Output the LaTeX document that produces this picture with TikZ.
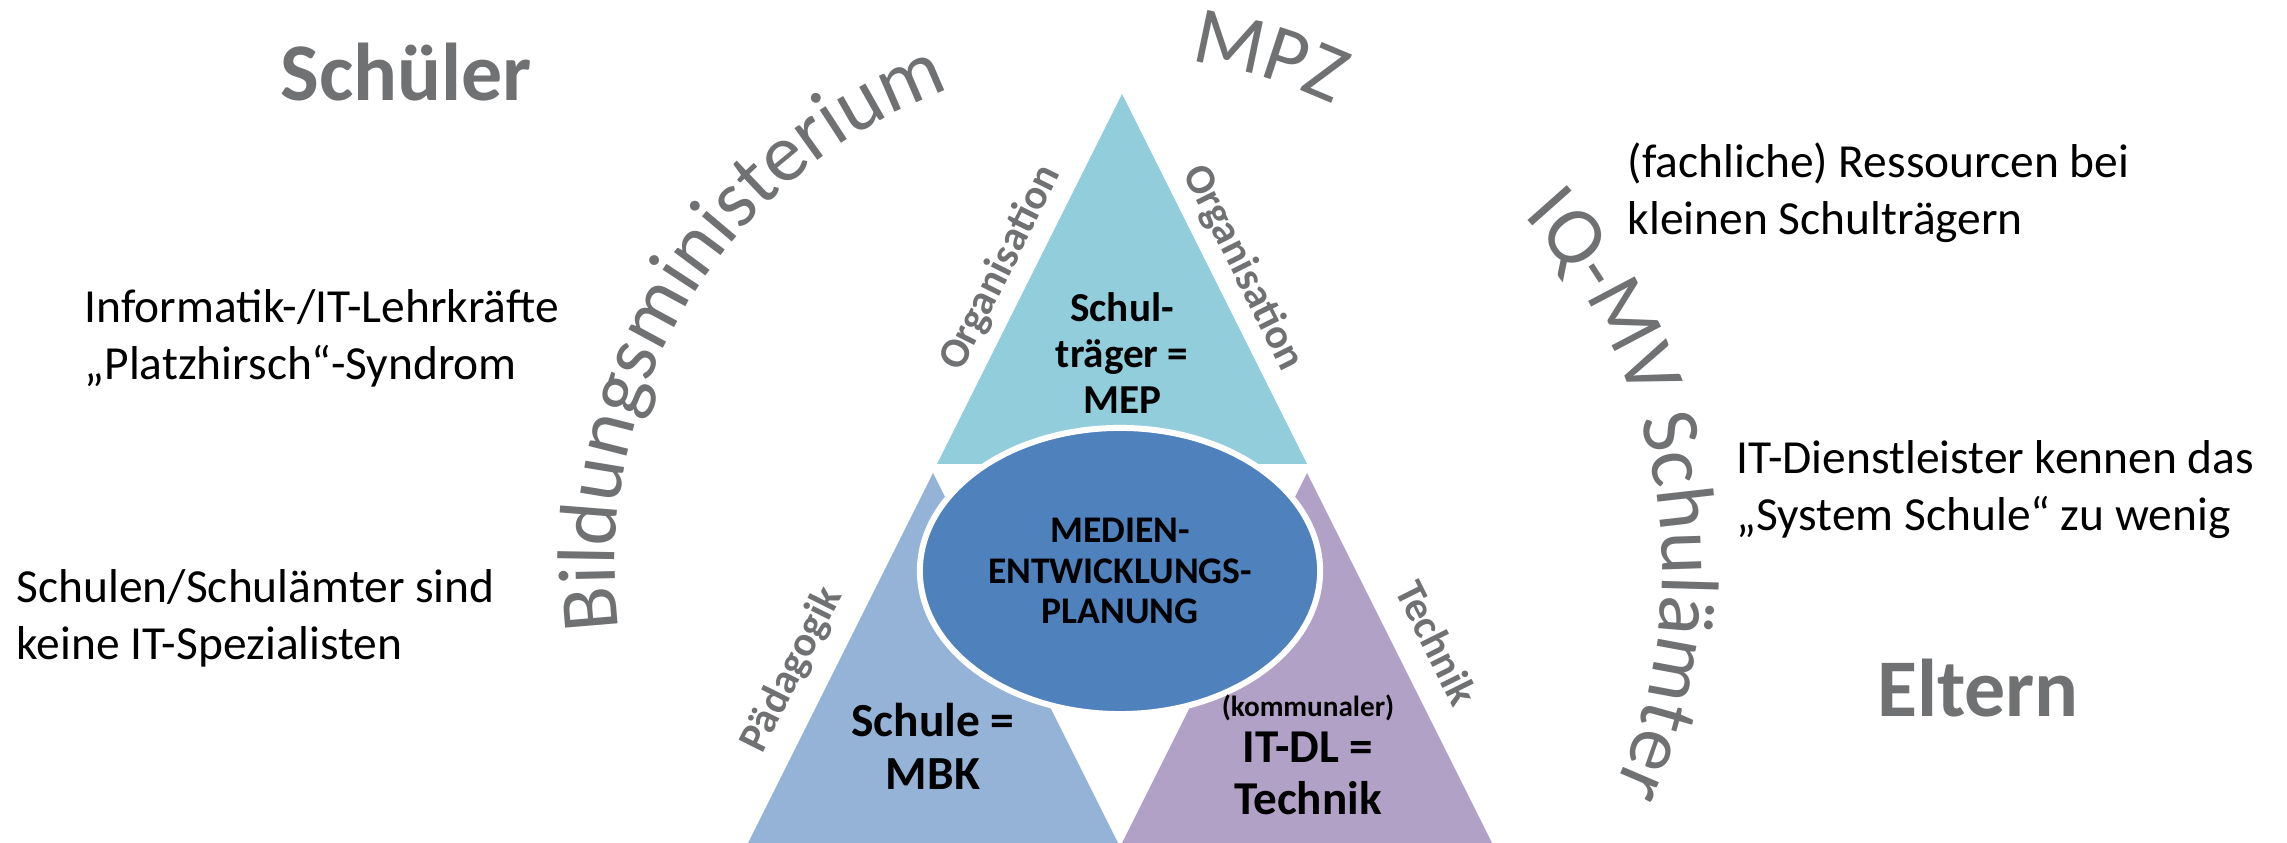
\documentclass[tikz,border=0pt]{standalone}
\usepackage{fontspec}
\setmainfont{Carlito}
\usetikzlibrary{shapes.geometric}
\usetikzlibrary{decorations.text}

\definecolor{orgblue}{RGB}{146,205,220}
\definecolor{paedblue}{RGB}{149,179,215}
\definecolor{techviolet}{RGB}{178,161,199}
\definecolor{mepblue}{RGB}{79,129,189}
\definecolor{labelgray}{RGB}{112,113,115}
\newcommand\arcfont{\fontsize{23.3}{28}\selectfont}

\begin{document}
\begin{tikzpicture}[x=0.01cm,y=0.01cm,
  side/.style={font=\bfseries\fontsize{12}{14}\selectfont, text=labelgray, inner sep=0},
  role/.style={font=\bfseries\fontsize{13.5}{15.1}\selectfont, align=center, inner sep=0, anchor=base},
  issue/.style={font=\fontsize{13.5}{16.4}\selectfont, align=left, inner sep=0, anchor=base west},
  group/.style={font=\bfseries\fontsize{23.3}{28}\selectfont, text=labelgray, inner sep=0, anchor=base},
  planning/.style={ellipse, fill=mepblue, draw=white, line width=0.06cm, minimum width=4cm,
    minimum height=2.86cm, inner sep=0, align=center, font=\bfseries\fontsize{10.7}{11.5}\selectfont},
  arctext/.style={decorate, decoration={text along path, text color=labelgray, text={|\arcfont|#1}}}]
  \useasboundingbox (0,0) rectangle (2287,843);

  % the three triangles
  \foreach \ax/\ay/\tone in {1122/749/orgblue, 933/370/paedblue, 1307/370/techviolet}{
    \fill[\tone] (\ax,\ay) -- ++(-185,-370) -- ++(370,0) -- cycle;
  }
  \node[planning] (mep) at (1120,272) {MEDIEN-\\ENTWICKLUNGS-\\PLANUNG};

  % base of a node with several lines = baseline of its last line
  \node[role, font=\bfseries\fontsize{11.7}{13.1}\selectfont] (carrier) at (1122,429) {Schul-\\träger =\\MEP};
  \node[role] (school) at (933,53) {Schule =\\MBK};
  \node[role, font=\bfseries\fontsize{13.4}{14.8}\selectfont] (provider) at (1308,28)
    {{\fontsize{8.3}{10}\selectfont(kommunaler)}\\[-1.7pt]IT-DL =\\Technik};

  \node[side, rotate=63.43] (orgleft) at (1001,575) {Organisation};
  \node[side, rotate=-63.43] (orgright) at (1243,575) {Organisation};
  \node[side, rotate=63.43] (paed) at (792,173) {Pädagogik};
  \node[side, rotate=-63.43] (tech) at (1437,200) {Technik};

  % texts on the big arc
  \coordinate (hub) at (1120,278);
  \coordinate (hubright) at (1140,273);
  \path[arctext=Bildungsministerium] (hub) ++(187.3:505) arc[start angle=187.3, end angle=95, radius=505];
  \path[arctext=MPZ] (hub) ++(82.1:508) arc[start angle=82.1, end angle=30, radius=508];
  \path[arctext=IQ-MV Schulämter] (hubright) ++(42.7:522) arc[start angle=42.7, end angle=-45, radius=522];

  \node[group] (pupils) at (406,742) {Schüler};
  \node[group] (parents) at (1978,126) {Eltern};

  \node[issue] (itstaff) at (84,463) {Informatik-/IT-Lehrkräfte\\„Platzhirsch“-Syndrom};
  \node[issue] (noexperts) at (16,183) {Schulen/Schulämter sind\\keine IT-Spezialisten};
  \node[issue] (resources) at (1627,608) {(fachliche) Ressourcen bei\\kleinen Schulträgern};
  \node[issue] (providers) at (1736,312) {IT-Dienstleister kennen das\\„System Schule“ zu wenig};
\end{tikzpicture}
\end{document}
